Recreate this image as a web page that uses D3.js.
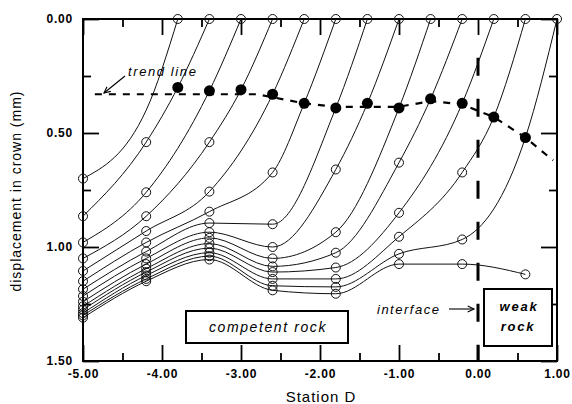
<!DOCTYPE html>
<html>
<head>
<meta charset="utf-8">
<script src="https://cdn.jsdelivr.net/npm/d3@7"></script>
<style>
body { margin: 0; background: #fff; }
svg { display: block; }
text { font-family: "Liberation Sans", Arial, sans-serif; fill: #000; }
</style>
</head>
<body>
<div id="chart"></div>
<script>
// measuring stations (Station D)
let stations = [-5.0, -4.2, -3.4, -2.6, -1.8, -1.0, -0.2, 0.6];

// face position of each profile (zero displacement), null = face beyond chart
let faces = [-3.8, -3.4, -3.0, -2.6, -2.2, -1.8, -1.4, -1.0, -0.6, -0.2, 0.2, 0.6, 1.0, null];

// first reading behind the face (filled dots on the trend line)
let firstX = [-4.2, -3.8, -3.4, -3.0, -2.6, -2.2, -1.8, -1.4, -1.0, -0.6, -0.2, 0.2, 0.6, null];
let firstY = [0.40, 0.30, 0.315, 0.31, 0.33, 0.37, 0.39, 0.37, 0.39, 0.35, 0.37, 0.43, 0.52, null];
let firstShown = [false, true, true, true, true, true, true, true, true, true, true, true, true, false];

// readings at stations[0], stations[1], ... for each profile
let readings = [
    [0.70],
    [0.865, 0.54],
    [0.98, 0.76],
    [1.05, 0.865, 0.54],
    [1.105, 0.93, 0.757],
    [1.15, 0.98, 0.845, 0.673],
    [1.185, 1.02, 0.895, 0.90],
    [1.215, 1.05, 0.935, 1.00, 0.66],
    [1.24, 1.075, 0.96, 1.05, 0.935],
    [1.26, 1.095, 0.985, 1.085, 1.025, 0.63],
    [1.275, 1.11, 1.005, 1.11, 1.09, 0.85],
    [1.29, 1.125, 1.025, 1.14, 1.14, 0.955, 0.673],
    [1.30, 1.14, 1.04, 1.17, 1.175, 1.03, 0.967],
    [1.31, 1.15, 1.055, 1.19, 1.205, 1.075, 1.075, 1.12]
];

// trend line
let trendX = [-4.85, -2.8, -2.2, -1.8, -1.0, -0.6, -0.2, 0.2, 0.6, 0.95];
let trendY = [0.33, 0.33, 0.37, 0.385, 0.385, 0.36, 0.375, 0.43, 0.52, 0.62];

let interfaceX = 0.0;

let xMajor = [-5, -4, -3, -2, -1, 0, 1];
let xMinor = [-4.5, -3.5, -2.5, -1.5, -0.5, 0.5];
let yMajor = [0, 0.5, 1.0, 1.5];
let yMinor = [0.25, 0.75, 1.25];

let width = 572, height = 404;

let svg = d3.select("#chart").append("svg")
    .attr("width", width)
    .attr("height", height);

let x = d3.scaleLinear().domain([-5, 1]).range([83, 557]);
let y = d3.scaleLinear().domain([0, 1.5]).range([19, 361]);

let fmt = function(d) { return d.toFixed(2); };

function styleAxis(g) {
    g.select(".domain").remove();
    g.selectAll(".tick line").attr("stroke", "#000").attr("stroke-width", 1.8);
    g.selectAll(".tick text")
        .attr("font-size", 12)
        .attr("font-weight", "bold")
        .attr("letter-spacing", 0.8)
        .attr("fill", "#000");
}

// bottom / top
svg.append("g").attr("transform", "translate(0," + y(1.5) + ")")
    .call(d3.axisBottom(x).tickValues(xMajor).tickSize(-16).tickPadding(8).tickFormat(fmt))
    .call(styleAxis);
svg.append("g").attr("transform", "translate(0," + y(1.5) + ")")
    .call(d3.axisBottom(x).tickValues(xMinor).tickSize(-8).tickFormat(""))
    .call(styleAxis);
svg.append("g").attr("transform", "translate(0," + y(0) + ")")
    .call(d3.axisTop(x).tickValues(xMajor).tickSize(-16).tickFormat(""))
    .call(styleAxis);
svg.append("g").attr("transform", "translate(0," + y(0) + ")")
    .call(d3.axisTop(x).tickValues(xMinor).tickSize(-8).tickFormat(""))
    .call(styleAxis);

// left / right
svg.append("g").attr("transform", "translate(" + x(-5) + ",0)")
    .call(d3.axisLeft(y).tickValues(yMajor).tickSize(-16).tickPadding(10).tickFormat(fmt))
    .call(styleAxis);
svg.append("g").attr("transform", "translate(" + x(-5) + ",0)")
    .call(d3.axisLeft(y).tickValues(yMinor).tickSize(-8).tickFormat(""))
    .call(styleAxis);
svg.append("g").attr("transform", "translate(" + x(1) + ",0)")
    .call(d3.axisRight(y).tickValues(yMajor).tickSize(-16).tickFormat(""))
    .call(styleAxis);
svg.append("g").attr("transform", "translate(" + x(1) + ",0)")
    .call(d3.axisRight(y).tickValues(yMinor).tickSize(-8).tickFormat(""))
    .call(styleAxis);

// frame
svg.append("rect")
    .attr("x", x(-5)).attr("y", y(0))
    .attr("width", x(1) - x(-5)).attr("height", y(1.5) - y(0))
    .attr("fill", "none").attr("stroke", "#000").attr("stroke-width", 2);

// interface line
svg.append("line")
    .attr("x1", x(interfaceX)).attr("x2", x(interfaceX))
    .attr("y1", y(0.17)).attr("y2", y(1.5))
    .attr("stroke", "#000").attr("stroke-width", 3)
    .attr("stroke-dasharray", "18,23");

// profiles
let line = d3.line()
    .x(function(d) { return x(d[0]); })
    .y(function(d) { return y(d[1]); })
    .curve(d3.curveMonotoneX);

let profiles = readings.map(function(r, k) {
    let pts = r.map(function(v, j) { return [stations[j], v]; });
    if (firstX[k] != null) pts.push([firstX[k], firstY[k]]);
    if (faces[k] != null) pts.push([faces[k], 0]);
    pts.sort(function(a, b) { return a[0] - b[0]; });
    return pts;
});

svg.append("g")
    .attr("fill", "none")
    .attr("stroke", "#111")
    .attr("stroke-width", 1)
    .selectAll("path")
    .data(profiles)
    .enter().append("path")
    .attr("d", line);

// trend line
let trend = d3.line()
    .x(function(d) { return x(d[0]); })
    .y(function(d) { return y(d[1]); });

svg.append("path")
    .attr("d", trend(d3.zip(trendX, trendY)))
    .attr("fill", "none")
    .attr("stroke", "#000")
    .attr("stroke-width", 2.2)
    .attr("stroke-dasharray", "7,7");

// open circles at the stations
let openPts = [];
readings.forEach(function(r) {
    r.forEach(function(v, j) { openPts.push([stations[j], v]); });
});
faces.forEach(function(f) { if (f != null) openPts.push([f, 0]); });

svg.append("g")
    .attr("fill", "none")
    .attr("stroke", "#111")
    .attr("stroke-width", 1)
    .selectAll("circle")
    .data(openPts)
    .enter().append("circle")
    .attr("cx", function(d) { return x(d[0]); })
    .attr("cy", function(d) { return y(d[1]); })
    .attr("r", 4.5);

// filled circles
let filledPts = [];
firstX.forEach(function(v, k) { if (firstShown[k]) filledPts.push([v, firstY[k]]); });

svg.append("g")
    .attr("fill", "#000")
    .selectAll("circle")
    .data(filledPts)
    .enter().append("circle")
    .attr("cx", function(d) { return x(d[0]); })
    .attr("cy", function(d) { return y(d[1]); })
    .attr("r", 5.5);

// arrow heads
function arrow(x1, y1, x2, y2) {
    let a = Math.atan2(y2 - y1, x2 - x1), L = 7, s = 0.45;
    svg.append("line")
        .attr("x1", x1).attr("y1", y1).attr("x2", x2).attr("y2", y2)
        .attr("stroke", "#000").attr("stroke-width", 1.1);
    svg.append("path")
        .attr("d", "M" + (x2 - L * Math.cos(a - s)) + "," + (y2 - L * Math.sin(a - s)) +
            "L" + x2 + "," + y2 +
            "L" + (x2 - L * Math.cos(a + s)) + "," + (y2 - L * Math.sin(a + s)))
        .attr("fill", "none").attr("stroke", "#000").attr("stroke-width", 1.1);
}

// annotations
svg.append("text")
    .attr("x", 128).attr("y", 76)
    .attr("font-size", 13).attr("font-style", "italic")
    .attr("letter-spacing", 1.6)
    .text("trend line");
arrow(125, 76, 104, 93);

svg.append("text")
    .attr("x", 377).attr("y", 314)
    .attr("font-size", 13).attr("font-style", "italic")
    .attr("letter-spacing", 1.5)
    .text("interface");
arrow(449, 309, 474, 309);

// rock boxes
svg.append("rect")
    .attr("x", 186).attr("y", 311).attr("width", 162).attr("height", 32)
    .attr("fill", "#fff").attr("stroke", "#000").attr("stroke-width", 2);
svg.append("text")
    .attr("x", 268).attr("y", 332)
    .attr("text-anchor", "middle")
    .attr("font-size", 14).attr("font-style", "italic")
    .attr("letter-spacing", 1.6)
    .text("competent rock");

svg.append("rect")
    .attr("x", 484).attr("y", 289).attr("width", 68).attr("height", 57)
    .attr("fill", "#fff").attr("stroke", "#000").attr("stroke-width", 2);
svg.append("text")
    .attr("x", 519).attr("y", 311)
    .attr("text-anchor", "middle")
    .attr("font-size", 13).attr("font-style", "italic").attr("font-weight", "bold")
    .attr("letter-spacing", 1.8)
    .text("weak");
svg.append("text")
    .attr("x", 518).attr("y", 331)
    .attr("text-anchor", "middle")
    .attr("font-size", 13).attr("font-style", "italic").attr("font-weight", "bold")
    .attr("letter-spacing", 1.8)
    .text("rock");

// axis titles
svg.append("text")
    .attr("x", 321).attr("y", 402)
    .attr("text-anchor", "middle")
    .attr("font-size", 15)
    .attr("letter-spacing", 1)
    .text("Station D");

svg.append("text")
    .attr("transform", "translate(21," + 191 + ") rotate(-90)")
    .attr("text-anchor", "middle")
    .attr("font-size", 14)
    .attr("letter-spacing", 1)
    .text("displacement in crown (mm)");
</script>
</body>
</html>
